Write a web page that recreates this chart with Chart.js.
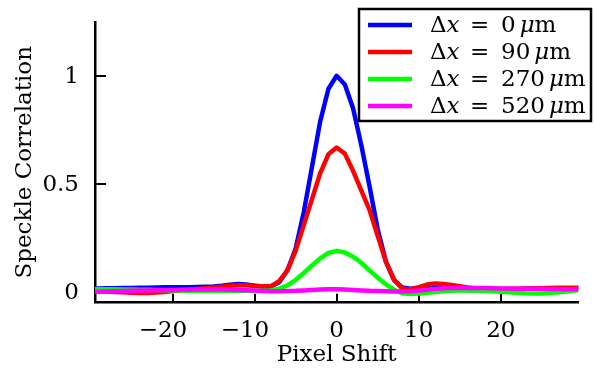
<!DOCTYPE html>
<html>
<head>
<meta charset="utf-8">
<script src="https://cdn.jsdelivr.net/npm/chart.js@4"></script>
<style>
  html, body { margin: 0; padding: 0; background: #fff; }
  canvas { display: block; }
</style>
</head>
<body>
<canvas id="chart" width="595" height="368"></canvas>
<script>
// pixel shift (x axis)
var pixelShift = [-30, -29, -28, -27, -26, -25, -24, -23, -22, -21, -20, -19, -18, -17, -16, -15, -14, -13, -12, -11,
  -10, -9, -8, -7, -6, -5, -4, -3, -2, -1, 0, 1, 2, 3, 4, 5, 6, 7, 8, 9,
  10, 11, 12, 13, 14, 15, 16, 17, 18, 19, 20, 21, 22, 23, 24, 25, 26, 27, 28, 29, 30];

// speckle correlation, one array per separation
var corr0 = [0.016, 0.016, 0.017, 0.017, 0.018, 0.018, 0.019, 0.019, 0.020, 0.021, 0.021, 0.022, 0.022, 0.023, 0.024, 0.025, 0.028, 0.033, 0.036, 0.034,
  0.028, 0.024, 0.025, 0.045, 0.10, 0.20, 0.37, 0.58, 0.79, 0.94, 1.0, 0.96, 0.85, 0.68, 0.49, 0.29, 0.14, 0.055, 0.02, 0.015,
  0.018, 0.020, 0.020, 0.018, 0.014, 0.011, 0.009, 0.008, 0.007, 0.007, 0.008, 0.010, 0.012, 0.014, 0.016, 0.017, 0.018, 0.018, 0.018, 0.018, 0.018];
var corr90 = [0.004, 0.003, 0.002, 0.0, -0.002, -0.004, -0.005, -0.005, -0.003, 0.0, 0.004, 0.008, 0.011, 0.014, 0.017, 0.020, 0.024, 0.028, 0.031, 0.031,
  0.028, 0.025, 0.027, 0.05, 0.10, 0.19, 0.31, 0.43, 0.55, 0.637, 0.668, 0.64, 0.56, 0.47, 0.38, 0.26, 0.14, 0.055, 0.015, 0.012,
  0.022, 0.034, 0.039, 0.037, 0.032, 0.026, 0.020, 0.016, 0.014, 0.013, 0.013, 0.013, 0.014, 0.015, 0.016, 0.017, 0.017, 0.018, 0.018, 0.018, 0.018];
var corr270 = [0.012, 0.012, 0.012, 0.012, 0.011, 0.011, 0.010, 0.010, 0.009, 0.008, 0.007, 0.006, 0.005, 0.005, 0.005, 0.005, 0.005, 0.005, 0.005, 0.005,
  0.005, 0.005, 0.007, 0.015, 0.03, 0.055, 0.088, 0.122, 0.155, 0.18, 0.19, 0.182, 0.163, 0.135, 0.10, 0.066, 0.035, 0.01, -0.006, -0.01,
  -0.008, -0.004, 0.0, 0.003, 0.005, 0.006, 0.006, 0.006, 0.005, 0.003, 0.001, -0.002, -0.004, -0.006, -0.007, -0.007, -0.005, -0.002, 0.002, 0.006, 0.008];
var corr520 = [0.0, 0.001, 0.002, 0.003, 0.004, 0.005, 0.006, 0.007, 0.008, 0.009, 0.009, 0.010, 0.010, 0.011, 0.011, 0.011, 0.011, 0.010, 0.009, 0.008,
  0.006, 0.004, 0.003, 0.003, 0.004, 0.005, 0.007, 0.009, 0.011, 0.012, 0.012, 0.011, 0.009, 0.007, 0.005, 0.004, 0.003, 0.002, 0.002, 0.003,
  0.006, 0.010, 0.014, 0.017, 0.018, 0.018, 0.018, 0.018, 0.018, 0.017, 0.016, 0.016, 0.015, 0.015, 0.014, 0.014, 0.013, 0.013, 0.012, 0.012, 0.012];

var seriesLabels = ['\u0394x = 0 \u03bcm', '\u0394x = 90 \u03bcm', '\u0394x = 270 \u03bcm', '\u0394x = 520 \u03bcm'];
var seriesColors = ['#0000ff', '#ff0000', '#00ff00', '#ff00ff'];
var xTicks = [-20, -10, 0, 10, 20];
var yTicks = [0, 0.5, 1];

var FONT = 'DejaVu Serif';

function points(vals) {
  return pixelShift.map(function(p, i) { return { x: p, y: vals[i] }; });
}

// little tick marks pointing into the plot
var innerTicks = {
  id: 'innerTicks',
  beforeDatasetsDraw: function(chart) {
    var ctx = chart.ctx, a = chart.chartArea;
    var xs = chart.scales.x, ys = chart.scales.y;
    ctx.save();
    ctx.strokeStyle = '#000';
    ctx.lineWidth = 2;
    ctx.beginPath();
    xTicks.forEach(function(v) {
      var px = Math.round(xs.getPixelForValue(v));
      ctx.moveTo(px, a.bottom);
      ctx.lineTo(px, a.bottom - 9);
    });
    yTicks.forEach(function(v) {
      var py = Math.round(ys.getPixelForValue(v));
      ctx.moveTo(a.left, py);
      ctx.lineTo(a.left + 11, py);
    });
    ctx.stroke();
    ctx.restore();
  }
};

// boxed legend, upper right, with italic x and mu
var boxLegend = {
  id: 'boxLegend',
  afterDraw: function(chart) {
    var ctx = chart.ctx;
    var left = 359, top = 9, right = 591, bottom = 121;
    ctx.save();
    ctx.fillStyle = '#fff';
    ctx.fillRect(left, top, right - left, bottom - top);
    ctx.strokeStyle = '#000';
    ctx.lineWidth = 2.5;
    ctx.strokeRect(left, top, right - left, bottom - top);

    chart.data.datasets.forEach(function(ds, i) {
      var rowY = 25 + i * 27;
      ctx.strokeStyle = ds.borderColor;
      ctx.lineWidth = 4.5;
      ctx.beginPath();
      ctx.moveTo(368, rowY);
      ctx.lineTo(412, rowY);
      ctx.stroke();

      var parts = ds.label.split(' '); // ["Δx", "=", "270", "μm"]
      var base = rowY + 7;
      var upright = '23px "' + FONT + '"';
      var slanted = 'italic 23px "' + FONT + '"';
      ctx.fillStyle = '#000';
      ctx.textBaseline = 'alphabetic';
      ctx.textAlign = 'left';
      var cx = 430;
      ctx.font = upright; ctx.fillText(parts[0].charAt(0), cx, base);
      cx += ctx.measureText(parts[0].charAt(0)).width;
      ctx.font = slanted; ctx.fillText(parts[0].slice(1), cx, base);
      ctx.font = upright; ctx.fillText(parts[1], 470, base);
      ctx.fillText(parts[2], 501, base);
      cx = 501 + ctx.measureText(parts[2]).width + 4;
      ctx.font = slanted; ctx.fillText(parts[3].charAt(0), cx, base);
      cx += ctx.measureText(parts[3].charAt(0)).width;
      ctx.font = upright; ctx.fillText(parts[3].slice(1), cx, base);
    });
    ctx.restore();
  }
};

Chart.defaults.font.family = FONT;
Chart.defaults.color = '#000';

var ctx = document.getElementById('chart');
var datasets = [corr0, corr90, corr270, corr520].map(function(vals, i) {
  return {
    label: seriesLabels[i],
    data: points(vals),
    borderColor: seriesColors[i],
    backgroundColor: seriesColors[i],
    borderWidth: 4.5,
    borderJoinStyle: 'round',
    pointRadius: 0,
    tension: 0,
    fill: false,
    order: 3 - i
  };
});

new Chart(ctx, {
  type: 'line',
  data: { datasets: datasets },
  options: {
    responsive: false,
    animation: false,
    devicePixelRatio: 1,
    layout: { padding: { left: 0, top: 20.7, right: 16.7, bottom: 0 } },
    plugins: { legend: { display: false }, tooltip: { enabled: false } },
    scales: {
      x: {
        type: 'linear',
        min: -29.45,
        max: 29.45,
        grid: { display: false },
        border: { display: true, color: '#000', width: 2.5 },
        afterBuildTicks: function(s) { s.ticks = xTicks.map(function(v) { return { value: v }; }); },
        afterFit: function(s) { s.height = 65.3; },
        ticks: {
          padding: 7,
          maxRotation: 0,
          font: { size: 23 },
          // digits stay centred on the tick, the minus hangs to the left
          callback: function(v) { return v < 0 ? '\u2212' + Math.abs(v) + '\u2007\u2009' : String(v); }
        },
        title: {
          display: true,
          text: 'Pixel Shift',
          font: { size: 23, lineHeight: 1 },
          padding: { top: 0, bottom: 1.5 }
        }
      },
      y: {
        min: -0.05,
        max: 1.25,
        grid: { display: false },
        border: { display: true, color: '#000', width: 2.5 },
        afterBuildTicks: function(s) { s.ticks = yTicks.map(function(v) { return { value: v }; }); },
        afterFit: function(s) { s.width = 95; },
        ticks: {
          padding: 8,
          labelOffset: 1,
          font: { size: 23 },
          callback: function(v) { return String(v); }
        },
        title: {
          display: true,
          text: 'Speckle Correlation',
          font: { size: 23, lineHeight: 1 },
          padding: { top: 14, bottom: 0 }
        }
      }
    }
  },
  plugins: [innerTicks, boxLegend]
});
</script>
</body>
</html>
